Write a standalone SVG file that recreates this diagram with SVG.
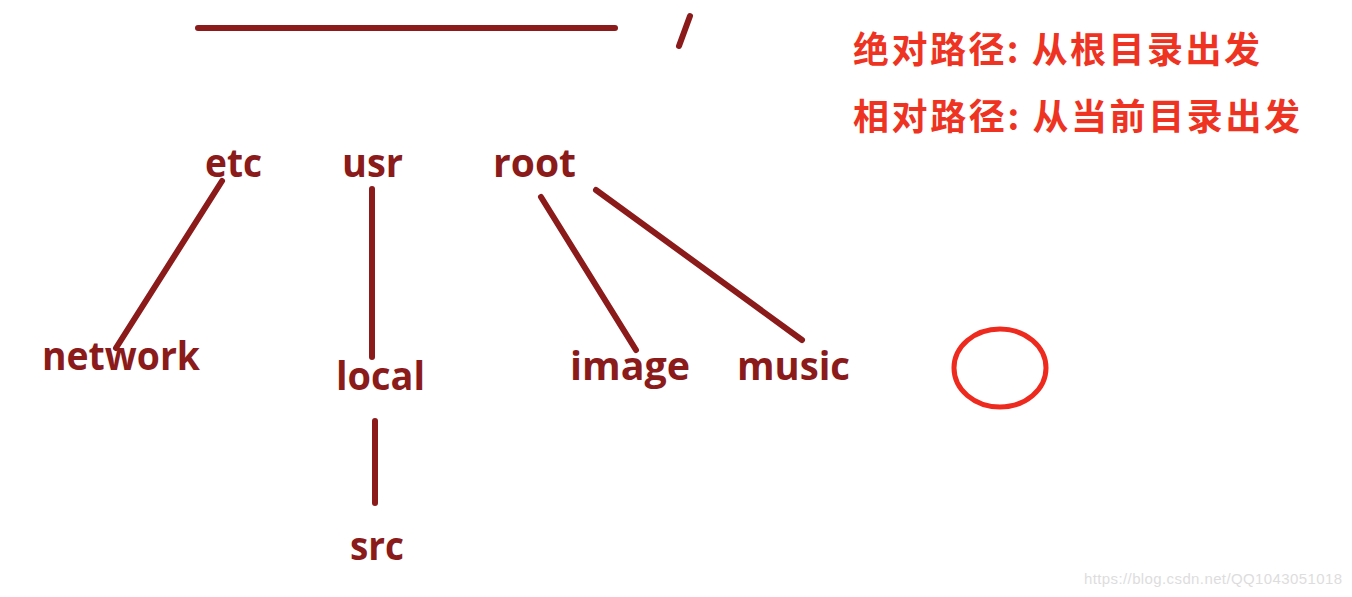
<svg xmlns="http://www.w3.org/2000/svg" width="1352" height="597" viewBox="0 0 1352 597">
<style>
.n{font-family:"Open Sans","Noto Sans",sans-serif;font-weight:bold;font-size:40px;fill:#8B1A1A}
.c{stroke:#8B1A1A;stroke-width:6;stroke-linecap:round;fill:none}
.zh{font-family:"Noto Sans CJK SC",sans-serif;font-weight:bold;font-size:36px;fill:#EE3322}
</style>
<rect width="1352" height="597" fill="#ffffff"/>
<g id="connectors">
<line class="c" x1="198" y1="28" x2="615" y2="28" stroke-width="7"/>
<line class="c" x1="222" y1="181" x2="116" y2="348"/>
<line class="c" x1="372" y1="189" x2="372" y2="357"/>
<line class="c" x1="541" y1="197" x2="636" y2="350"/>
<line class="c" x1="596" y1="190" x2="802" y2="340"/>
<line class="c" x1="375" y1="421" x2="375" y2="503"/>
</g>
<g id="root-slash"><line class="c" x1="690" y1="16" x2="679" y2="46" stroke-width="5"/></g>
<g id="etc"><text class="n" x="205" y="177" textLength="57" lengthAdjust="spacingAndGlyphs">etc</text></g>
<g id="usr"><text class="n" x="342" y="177" textLength="61" lengthAdjust="spacingAndGlyphs">usr</text></g>
<g id="root"><text class="n" x="493" y="177" textLength="83" lengthAdjust="spacingAndGlyphs">root</text></g>
<g id="network"><text class="n" x="42" y="370" textLength="158" lengthAdjust="spacingAndGlyphs">network</text></g>
<g id="local"><text class="n" x="336" y="390" textLength="89" lengthAdjust="spacingAndGlyphs">local</text></g>
<g id="image"><text class="n" x="570" y="380" textLength="120" lengthAdjust="spacingAndGlyphs">image</text></g>
<g id="music"><text class="n" x="737" y="380" textLength="113" lengthAdjust="spacingAndGlyphs">music</text></g>
<g id="src"><text class="n" x="350" y="560" textLength="54" lengthAdjust="spacingAndGlyphs">src</text></g>
<g id="marker-circle"><ellipse cx="1000" cy="368" rx="46" ry="39" fill="none" stroke="#EE2A1E" stroke-width="5"/></g>
<g id="notes">
<text class="zh" x="853" y="63" textLength="407">绝对路径: 从根目录出发</text>
<text class="zh" x="853" y="130" textLength="447">相对路径: 从当前目录出发</text>
</g>
<text x="1084" y="584" font-family="Liberation Sans, sans-serif" font-size="15" fill="#dddddd" textLength="258">https://blog.csdn.net/QQ1043051018</text>
</svg>
